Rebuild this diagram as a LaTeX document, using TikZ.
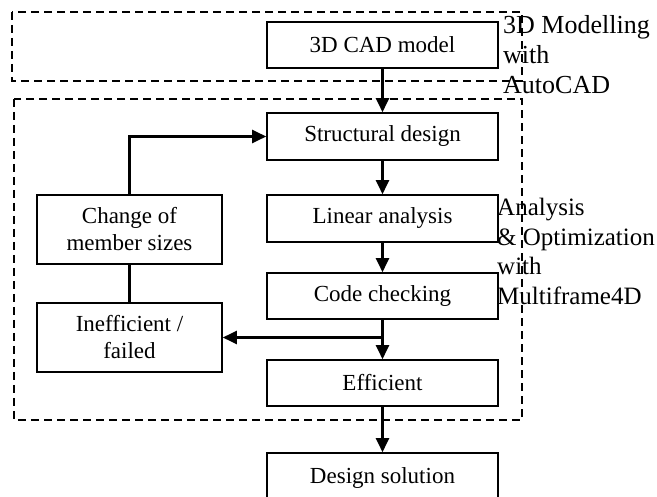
\documentclass[tikz,border=0pt]{standalone}
\usepackage{fontspec}
\setmainfont{Liberation Serif}
\usetikzlibrary{arrows.meta}
\begin{document}
\begin{tikzpicture}[x=1pt,y=-1pt,
  box/.style={draw,line width=1.6pt,minimum width=231pt,minimum height=46pt,inner sep=0pt,
    font=\fontsize{23}{26}\selectfont,align=center},
  sbox/.style={draw,line width=1.6pt,minimum width=185pt,minimum height=69pt,inner sep=0pt,
    font=\fontsize{23}{27}\selectfont,align=center},
  arr/.style={line width=2.2pt,-{Triangle[length=14pt,width=13pt]}},
  conn/.style={line width=2.2pt},
  group/.style={draw,line width=1.6pt,dash pattern=on 8pt off 5pt},
  lbl/.style={inner sep=0pt,anchor=north west,align=left}]
\useasboundingbox (0,0) rectangle (657,497);
\draw[group] (12,12) rectangle (522,81);
\draw[group] (14,99) rectangle (522,420);
\node[box] (cad) at (382.5,45) {3D CAD model};
\node[box,minimum height=47pt] (struct) at (382.5,136.5) {Structural design};
\node[box,minimum height=47pt] (lin) at (382.5,218.5) {Linear analysis};
\node[box] (code) at (382.5,296) {Code checking};
\node[box] (eff) at (382.5,383) {Efficient};
\node[box,minimum height=50pt] (sol) at (382.5,478) {Design solution};
\node[sbox] (change) at (129.5,229.5) {Change of\\member sizes};
\node[sbox] (ineff) at (129.5,337.5) {Inefficient /\\failed};
\node[lbl,font=\fontsize{26}{30}\selectfont] (lab1) at (503,15) {3D Modelling\\with\\AutoCAD};
\node[lbl,font=\fontsize{25}{29.5}\selectfont] (lab2) at (497,198) {Analysis\\\& Optimization\\with\\Multiframe4D};
\draw[arr] (cad.south) -- (struct.north);
\draw[arr] (struct.south) -- (lin.north);
\draw[arr] (lin.south) -- (code.north);
\draw[arr] (code.south) -- (eff.north);
\draw[arr] (eff.south) -- (sol.north);
\draw[arr] (change.north) |- (struct.west);
\draw[conn] (change.south) -- (ineff.north);
\coordinate (br) at (code.south |- ineff.east);
\draw[arr] (br) -- (ineff.east);
\end{tikzpicture}
\end{document}
